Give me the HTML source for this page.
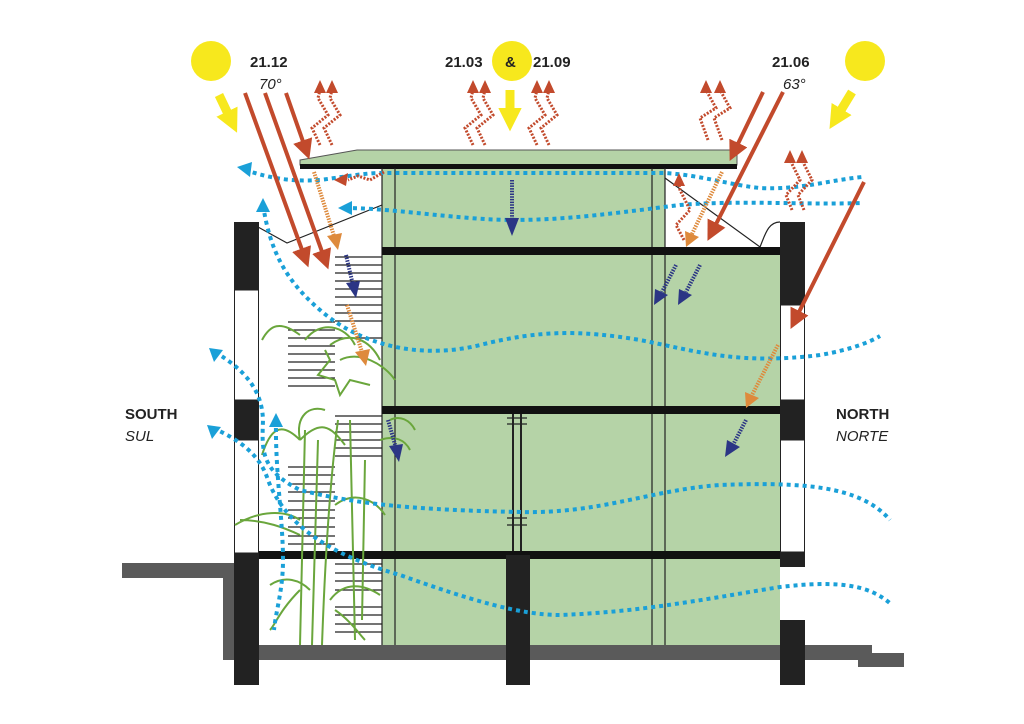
<!DOCTYPE html>
<html><head><meta charset="utf-8"><style>
html,body{margin:0;padding:0;background:#fff;}
svg{display:block;}
text{font-family:"Liberation Sans",Arial,sans-serif;fill:#222;}
</style></head><body>
<svg width="1024" height="724" viewBox="0 0 1024 724" xmlns="http://www.w3.org/2000/svg">
<defs>
<marker id="ah" viewBox="0 0 10 10" refX="5" refY="5" markerWidth="5" markerHeight="5" orient="auto"><path d="M0,0L10,5L0,10z" fill="#c24a2c"/></marker>
<marker id="ay" viewBox="0 0 10 10" refX="3" refY="5" markerWidth="2.6" markerHeight="2.6" orient="auto"><path d="M0,0L10,5L0,10z" fill="#f7e81d"/></marker>
</defs>

<!-- ground -->
<rect x="258" y="645" width="614" height="15" fill="#5a5a5a"/>
<rect x="858" y="653" width="46" height="14" fill="#5a5a5a"/>
<rect x="122" y="563" width="108" height="15" fill="#5a5a5a"/>
<rect x="223" y="563" width="12" height="97" fill="#5a5a5a"/>

<!-- green volumes -->
<rect x="382" y="168" width="283" height="85" fill="#b5d3a7"/>
<rect x="382" y="250" width="398" height="395" fill="#b5d3a7"/>
<path d="M300,160 L357,150 L737,150 L737,165 L300,165 Z" fill="#b5d3a7" stroke="#555" stroke-width="1"/>
<rect x="300" y="164" width="437" height="5" fill="#111"/>

<!-- thin lines -->
<g stroke="#222" stroke-width="1.2" fill="none">
<line x1="395" y1="168" x2="395" y2="645"/>
<line x1="652" y1="168" x2="652" y2="645"/>
<line x1="665" y1="168" x2="665" y2="645"/>
<line x1="382" y1="168" x2="382" y2="645"/>
<path d="M258,227 L287,243 L382,205"/>
<path d="M665,178 L760,247 C765,235 768,222 780,222"/>
<line x1="513" y1="413" x2="513" y2="555" stroke-width="2"/>
<line x1="521" y1="413" x2="521" y2="555" stroke-width="2"/>
<line x1="507" y1="418" x2="527" y2="418"/><line x1="507" y1="424" x2="527" y2="424"/>
<line x1="507" y1="518" x2="527" y2="518"/><line x1="507" y1="525" x2="527" y2="525"/>
</g>

<!-- slabs -->
<rect x="382" y="247" width="398" height="8" fill="#111"/>
<rect x="382" y="406" width="398" height="8" fill="#111"/>
<rect x="258" y="551" width="522" height="8" fill="#111"/>

<!-- louvers -->
<g stroke="#222" stroke-width="1.3">
<line x1="335" y1="257" x2="382" y2="257"/><line x1="335" y1="265" x2="382" y2="265"/><line x1="335" y1="273" x2="382" y2="273"/><line x1="335" y1="281" x2="382" y2="281"/><line x1="335" y1="289" x2="382" y2="289"/><line x1="335" y1="297" x2="382" y2="297"/><line x1="335" y1="305" x2="382" y2="305"/><line x1="335" y1="313" x2="382" y2="313"/><line x1="335" y1="321" x2="382" y2="321"/>
<line x1="288" y1="322" x2="335" y2="322"/><line x1="288" y1="330" x2="335" y2="330"/><line x1="288" y1="338" x2="382" y2="338"/><line x1="288" y1="346" x2="335" y2="346"/><line x1="288" y1="354" x2="335" y2="354"/><line x1="288" y1="362" x2="335" y2="362"/><line x1="288" y1="370" x2="335" y2="370"/><line x1="288" y1="378" x2="335" y2="378"/><line x1="288" y1="386" x2="335" y2="386"/>
<line x1="335" y1="416" x2="382" y2="416"/><line x1="335" y1="424" x2="382" y2="424"/><line x1="335" y1="432" x2="382" y2="432"/><line x1="335" y1="440" x2="382" y2="440"/><line x1="335" y1="448" x2="382" y2="448"/><line x1="335" y1="456" x2="382" y2="456"/>
<line x1="288" y1="467" x2="335" y2="467"/><line x1="288" y1="475" x2="335" y2="475"/><line x1="288" y1="484" x2="335" y2="484"/><line x1="288" y1="492" x2="335" y2="492"/><line x1="288" y1="501" x2="335" y2="501"/><line x1="288" y1="510" x2="335" y2="510"/><line x1="288" y1="518" x2="335" y2="518"/><line x1="288" y1="527" x2="335" y2="527"/><line x1="288" y1="536" x2="335" y2="536"/><line x1="288" y1="544" x2="335" y2="544"/>
<line x1="335" y1="564" x2="382" y2="564"/><line x1="335" y1="573" x2="382" y2="573"/><line x1="335" y1="581" x2="382" y2="581"/><line x1="335" y1="590" x2="382" y2="590"/><line x1="335" y1="607" x2="382" y2="607"/><line x1="335" y1="615" x2="382" y2="615"/><line x1="335" y1="624" x2="382" y2="624"/><line x1="335" y1="632" x2="382" y2="632"/>
</g>

<!-- walls -->
<g fill="#222">
<rect x="234" y="222" width="25" height="68"/>
<rect x="234" y="400" width="25" height="40"/>
<rect x="234" y="553" width="25" height="132"/>
<rect x="780" y="222" width="25" height="83"/>
<rect x="780" y="400" width="25" height="40"/>
<rect x="780" y="552" width="25" height="15"/>
<rect x="780" y="620" width="25" height="65"/>
<rect x="506" y="555" width="24" height="130"/>
</g>
<g fill="none" stroke="#222" stroke-width="1">
<rect x="234.5" y="290" width="24" height="110"/>
<rect x="234.5" y="440" width="24" height="113"/>
<rect x="780.5" y="305" width="24" height="95"/>
<rect x="780.5" y="440" width="24" height="112"/>
</g>

<!-- plants -->
<g fill="none" stroke="#6aa63c" stroke-width="2">
<path d="M300,645 L305,430 M312,645 L318,440 M322,645 C325,560 330,480 338,420"/>
<path d="M355,640 L350,420 M362,620 L365,460"/>
<path d="M300,440 C280,420 270,430 262,455 M300,440 C320,420 330,425 345,445 M300,440 C295,415 310,405 325,410"/>
<path d="M300,335 C280,320 270,325 262,340 M305,340 C320,320 345,325 355,345 M330,345 C350,330 370,340 380,360 M340,360 C360,350 385,365 395,380"/>
<path d="M235,525 C260,510 285,510 300,520 M240,520 C265,520 285,528 300,535 M335,505 C355,490 375,500 385,515"/>
<path d="M270,585 C285,575 300,580 310,590 M300,590 C280,610 275,625 270,630 M330,600 C345,580 365,585 380,595 M335,610 C350,620 360,635 365,640"/>
<path d="M390,420 C400,415 410,420 415,430 M380,440 C395,435 405,440 410,450"/>
<path d="M325,350 L330,360 L318,375 L335,380 L340,395 L350,380 L370,385"/>
</g>

<!-- blue dotted air flows -->
<g fill="none" stroke="#1aa0d8" stroke-width="4" stroke-dasharray="4 4">
<path d="M245,170 C270,178 290,182 320,180 C350,176 365,173 382,173 L665,173 C700,175 730,185 760,188 C800,190 830,180 862,177"/>
<path d="M345,208 C380,208 420,214 470,218 C540,224 600,215 680,205 C740,200 800,205 862,203"/>
<path d="M263,205 C270,250 285,280 320,310 C360,345 420,360 480,345 C540,330 580,330 640,340 C700,352 740,365 820,355 C850,350 870,342 880,336"/>
<path d="M215,352 C245,370 262,390 263,420 C262,450 260,470 300,490 C360,505 420,510 520,512 C600,514 650,490 720,485 C800,482 860,485 890,520"/>
<path d="M213,428 C240,440 260,455 268,480 C285,525 330,555 400,575 C470,600 520,615 560,615 C640,612 700,600 780,587 C840,580 870,585 892,605"/>
<path d="M276,420 C275,470 283,520 283,560 C283,590 276,610 274,630"/>
</g>
<g fill="#1aa0d8">
<path d="M237,167 L252,162 L250,177 Z"/>
<path d="M338,208 L352,201 L352,215 Z"/>
<path d="M263,198 L256,212 L270,212 Z"/>
<path d="M209,348 L223,350 L214,362 Z"/>
<path d="M207,425 L221,427 L212,439 Z"/>
<path d="M276,413 L269,427 L283,427 Z"/>
</g>

<!-- sun rays (red) -->
<g stroke="#c24a2c" stroke-width="4" fill="none" marker-end="url(#ah)">
<line x1="245" y1="93" x2="305" y2="258"/>
<line x1="265" y1="93" x2="325" y2="260"/>
<line x1="286" y1="93" x2="306" y2="150"/>
<line x1="763" y1="92" x2="734" y2="152"/>
<line x1="783" y1="92" x2="712" y2="232"/>
<line x1="864" y1="182" x2="795" y2="320"/>
</g>

<!-- heat zigzags -->
<g stroke="#c24a2c" stroke-width="3" stroke-dasharray="2 1.5" fill="none">
<path d="M320,145 L312,128 L328,115 L318,98 L320,90"/>
<path d="M332,145 L324,128 L340,115 L330,98 L332,90"/>
<path d="M473,145 L465,128 L481,115 L471,98 L473,90"/>
<path d="M485,145 L477,128 L493,115 L483,98 L485,90"/>
<path d="M537,145 L529,128 L545,115 L535,98 L537,90"/>
<path d="M549,145 L541,128 L557,115 L547,98 L549,90"/>
<path d="M708,140 L700,118 L716,108 L706,90"/>
<path d="M722,140 L714,118 L730,108 L720,90"/>
<path d="M792,210 L786,195 L800,180 L790,160"/>
<path d="M804,210 L798,195 L812,180 L802,160"/>
<path d="M684,240 L676,225 L690,210 L680,190 L679,183"/>
<path d="M384,172 L370,180 L358,176 L348,180"/>
</g>
<g fill="#c24a2c">
<path d="M314,93 L320,80 L326,93Z"/><path d="M326,93 L332,80 L338,93Z"/>
<path d="M467,93 L473,80 L479,93Z"/><path d="M479,93 L485,80 L491,93Z"/>
<path d="M531,93 L537,80 L543,93Z"/><path d="M543,93 L549,80 L555,93Z"/>
<path d="M700,93 L706,80 L712,93Z"/><path d="M714,93 L720,80 L726,93Z"/>
<path d="M784,163 L790,150 L796,163Z"/><path d="M796,163 L802,150 L808,163Z"/>
<path d="M673,186 L679,173 L685,186Z"/>
<path d="M334,180 L348,173 L346,186Z"/>
</g>

<!-- orange arrows -->
<g stroke="#de8a3c" stroke-width="4" stroke-dasharray="1.5 1.2" fill="none">
<line x1="314" y1="172" x2="334" y2="236"/>
<line x1="347" y1="305" x2="362" y2="352"/>
<line x1="778" y1="345" x2="752" y2="395"/>
<line x1="722" y1="172" x2="692" y2="234"/>
</g>
<g fill="#de8a3c">
<path d="M327,236 L338,250 L342,233Z"/>
<path d="M355,352 L366,366 L370,349Z"/>
<path d="M745,392 L746,408 L759,398Z"/>
<path d="M685,231 L686,247 L699,237Z"/>
</g>

<!-- dark blue arrows -->
<g stroke="#2b3585" stroke-width="4" stroke-dasharray="1.5 1.2" fill="none">
<line x1="512" y1="180" x2="512" y2="220"/>
<line x1="346" y1="255" x2="353" y2="285"/>
<line x1="676" y1="265" x2="662" y2="292"/>
<line x1="700" y1="265" x2="686" y2="292"/>
<line x1="388" y1="420" x2="396" y2="448"/>
<line x1="746" y1="420" x2="734" y2="443"/>
</g>
<g fill="#2b3585">
<path d="M505,218 L512,236 L519,218Z"/>
<path d="M346,283 L356,298 L360,281Z"/>
<path d="M655,289 L654,305 L668,295Z"/>
<path d="M679,289 L678,305 L692,295Z"/>
<path d="M389,446 L399,462 L403,444Z"/>
<path d="M727,440 L725,457 L740,447Z"/>
</g>

<!-- suns -->
<g fill="#f7e81d">
<circle cx="211" cy="61" r="20"/>
<circle cx="512" cy="61" r="20"/>
<circle cx="865" cy="61" r="20"/>
</g>
<g stroke="#f7e81d" stroke-width="9" fill="none" marker-end="url(#ay)">
<line x1="219" y1="95" x2="230" y2="118"/>
<line x1="510" y1="90" x2="510" y2="115"/>
<line x1="852" y1="92" x2="838" y2="115"/>
</g>

<!-- labels -->
<text x="250" y="67" font-size="15" font-weight="bold">21.12</text>
<text x="259" y="89" font-size="15" font-style="italic">70°</text>
<text x="445" y="67" font-size="15" font-weight="bold">21.03</text>
<text x="505" y="67" font-size="15" font-weight="bold">&amp;</text>
<text x="533" y="67" font-size="15" font-weight="bold">21.09</text>
<text x="772" y="67" font-size="15" font-weight="bold">21.06</text>
<text x="783" y="89" font-size="15" font-style="italic">63°</text>
<text x="125" y="419" font-size="15" font-weight="bold">SOUTH</text>
<text x="125" y="441" font-size="15" font-style="italic">SUL</text>
<text x="836" y="419" font-size="15" font-weight="bold">NORTH</text>
<text x="836" y="441" font-size="15" font-style="italic">NORTE</text>
</svg>
</body></html>
